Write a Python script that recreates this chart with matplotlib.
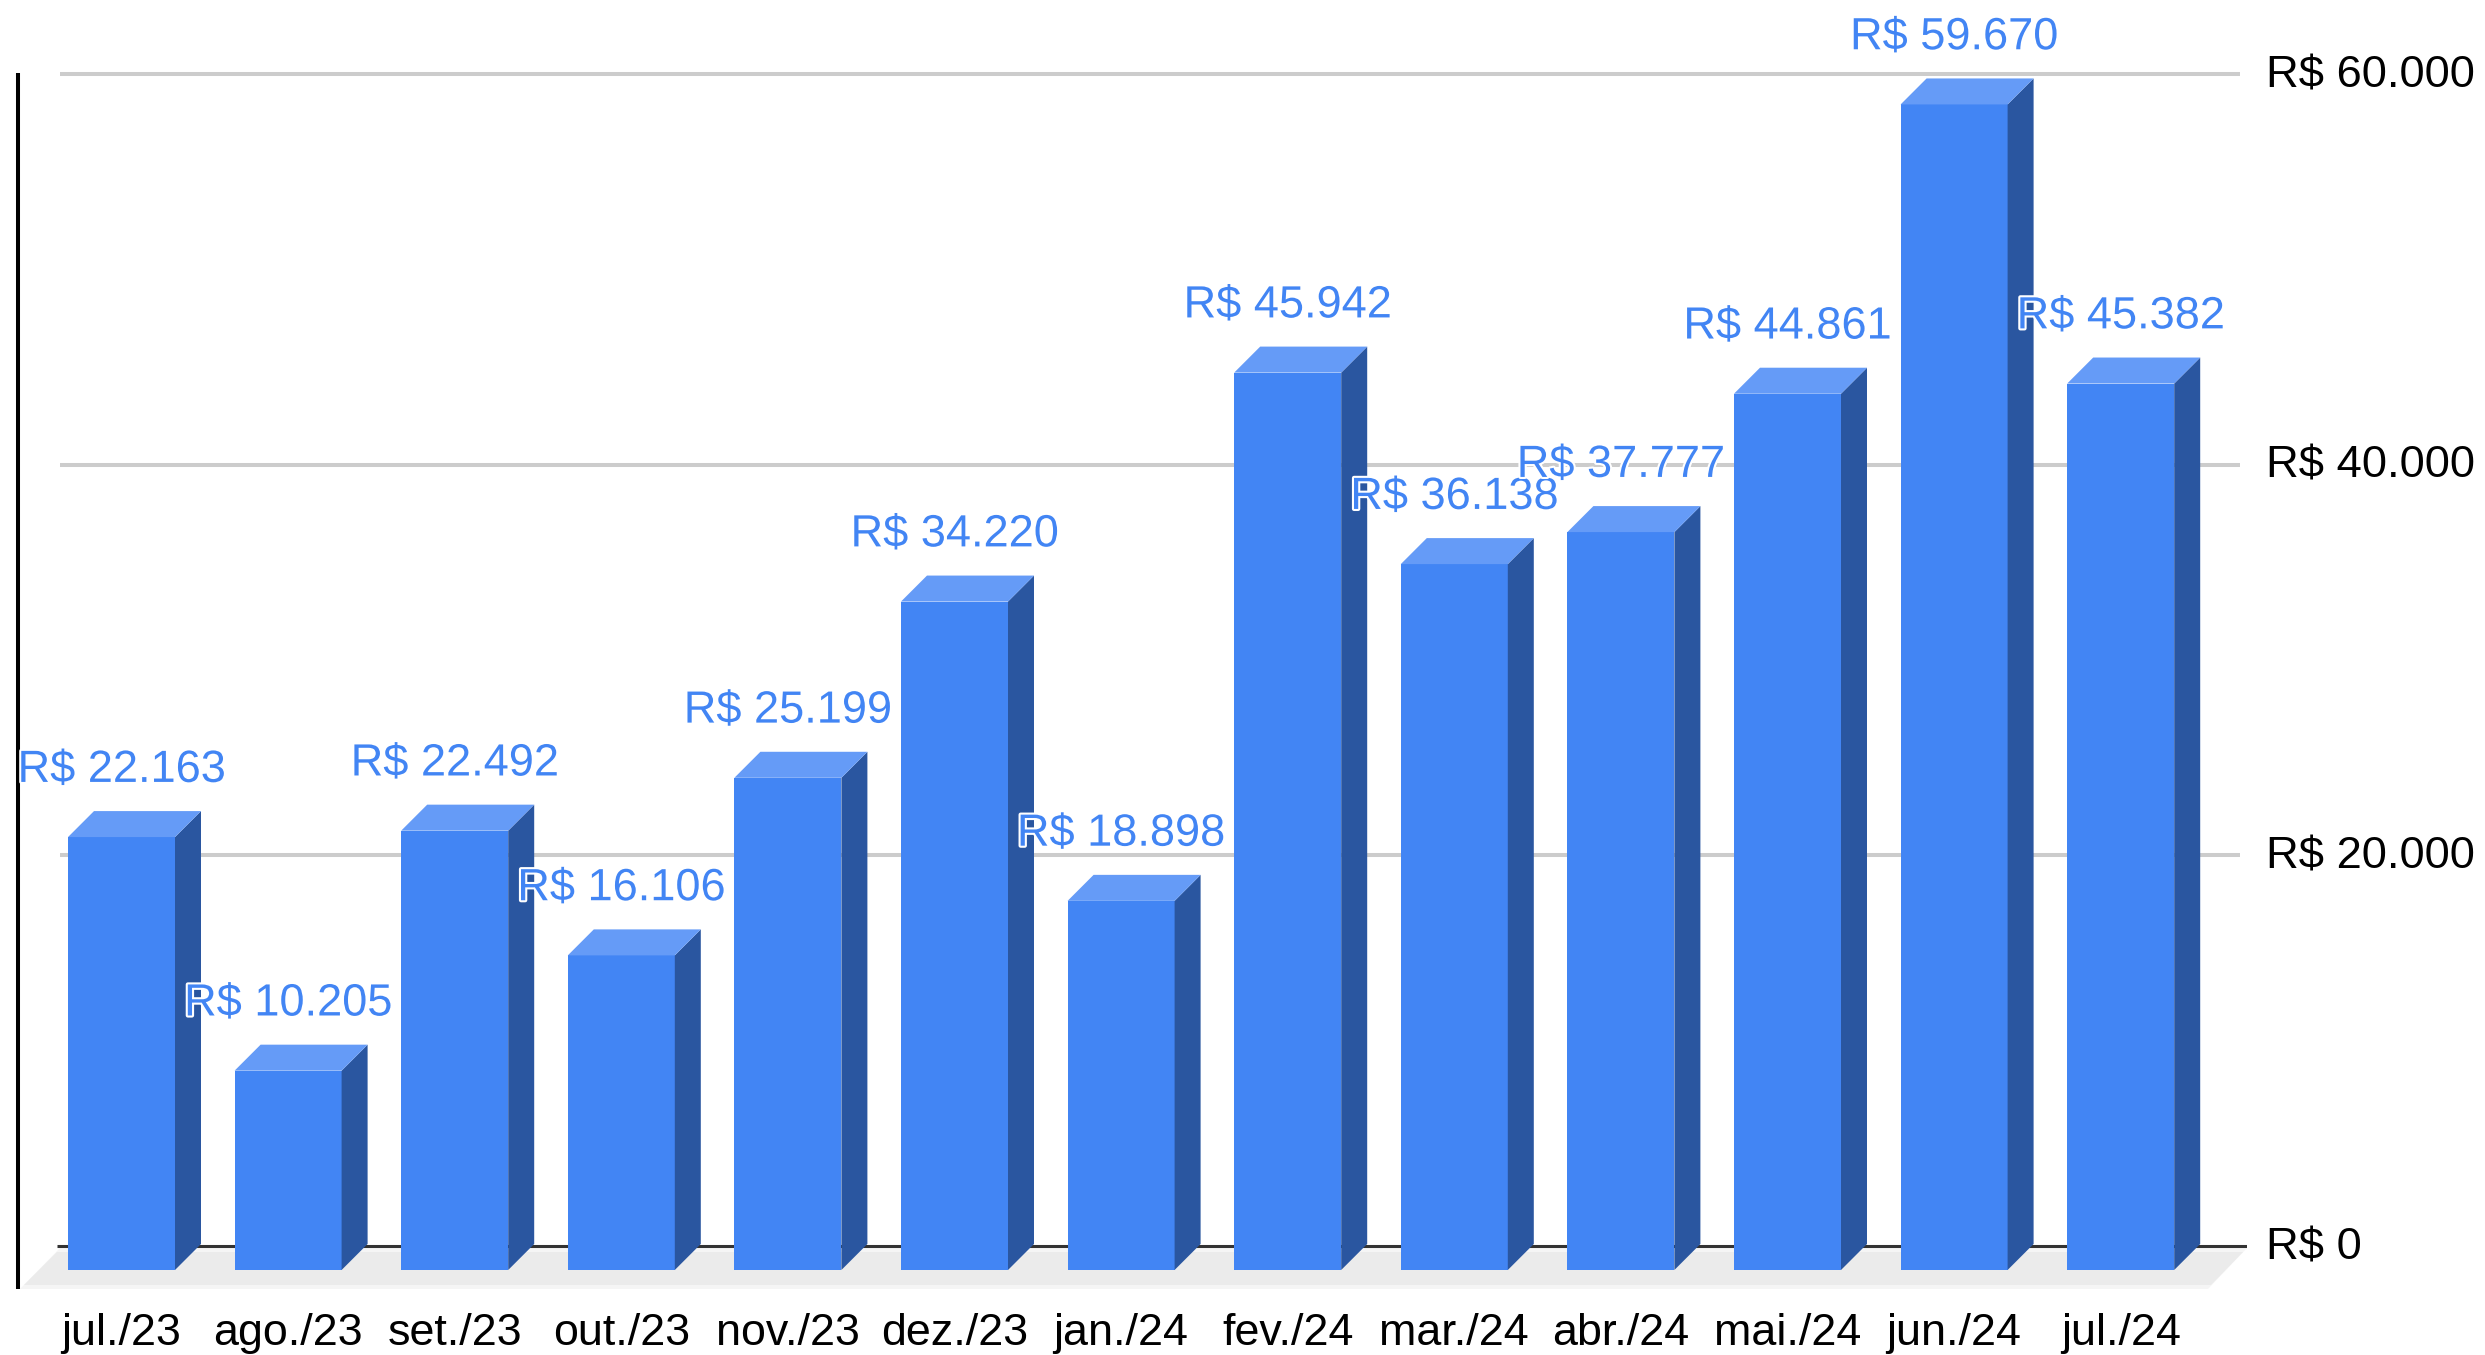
#! /usr/bin/env python
import matplotlib

matplotlib.use("Agg")
import matplotlib.patheffects as pe
import matplotlib.pyplot as plt
import numpy as np
from matplotlib.patches import Polygon

plt.rcParams["font.family"] = ["Liberation Sans", "DejaVu Sans"]

months = [
    "jul./23", "ago./23", "set./23", "out./23", "nov./23", "dez./23", "jan./24",
    "fev./24", "mar./24", "abr./24", "mai./24", "jun./24", "jul./24",
]
values = [
    22163, 10205, 22492, 16106, 25199, 34220, 18898,
    45942, 36138, 37777, 44861, 59670, 45382,
]
axis_values = [0, 20000, 40000, 60000]


def brl(v):
    return "R$ " + f"{v:,}".replace(",", ".")


# the chart is a fake 3d one, so the depth is worked out in pixels
W, H = 2485, 1355
X0, STEP = 121.5, 166.6  # first bar centre, bar spacing
Y0, PX_PER_VALUE = 1270, 1172 / 60000  # front baseline, scale
AX_RIGHT, AX_BOTTOM = 2247, 1289

xdata = lambda px: (px - X0) / STEP
ydata = lambda py: (Y0 - py) / PX_PER_VALUE

bar_w = 107 / STEP
side_x = 26 / STEP
side_y = 26 / PX_PER_VALUE
wall_y = 24 / PX_PER_VALUE
label_y = 27 / PX_PER_VALUE  # axis text sits a little above its line

fig = plt.figure(figsize=(W / 100, H / 100), dpi=100, facecolor="white")
ax = fig.add_axes([0, (H - AX_BOTTOM) / H, AX_RIGHT / W, AX_BOTTOM / H])
ax.set_xlim(xdata(0), xdata(AX_RIGHT))
ax.set_ylim(ydata(AX_BOTTOM), ydata(0))
for spine in ax.spines.values():
    spine.set_visible(False)

# floor, with the lighter rim
ax.add_patch(Polygon(
    [(xdata(20), ydata(1289)), (xdata(60), ydata(1248)), (xdata(2247), ydata(1248)), (xdata(2208), ydata(1289))],
    facecolor="#F5F5F5", edgecolor="none", zorder=1,
))
ax.add_patch(Polygon(
    [(xdata(24), ydata(1285)), (xdata(57), ydata(1252)), (xdata(2243), ydata(1252)), (xdata(2211), ydata(1285))],
    facecolor="#EBEBEB", edgecolor="none", zorder=1.1,
))

# back wall lines
for v in axis_values:
    ax.plot(
        [xdata(60 if v else 57), xdata(AX_RIGHT - 7 if v else AX_RIGHT)], [v + wall_y, v + wall_y],
        color="#CCCCCC" if v else "#333333", lw=2.9 if v else 2.2,
        solid_capstyle="butt", zorder=2,
    )

# left axis
ax.plot([xdata(18), xdata(18)], [ydata(1289), ydata(73)], color="black", lw=2.9, solid_capstyle="butt", zorder=2)

x = np.arange(len(values))
ax.bar(x, values, width=bar_w, color="#4285F4", linewidth=0, zorder=3)
for xi, v in zip(x, values):
    right = xi + bar_w / 2
    left = xi - bar_w / 2
    ax.add_patch(Polygon(
        [(right, 0), (right + side_x, side_y), (right + side_x, v + side_y), (right, v)],
        facecolor="#2A56A0", edgecolor="none", zorder=3,
    ))
    ax.add_patch(Polygon(
        [(left, v), (left + side_x, v + side_y), (right + side_x, v + side_y), (right, v)],
        facecolor="#659BF7", edgecolor="none", zorder=3,
    ))
    ax.annotate(
        brl(v), (xi, v), xytext=(0, 48), textcoords="offset points",
        ha="center", va="center", fontsize=32.5, color="#4285F4", zorder=5, annotation_clip=False,
        path_effects=[pe.withStroke(linewidth=3, foreground="white")],
    )

ax.set_xticks(x, months)
ax.set_yticks(np.array(axis_values) + label_y, [brl(v) for v in axis_values])
ax.yaxis.tick_right()
ax.tick_params(axis="x", length=0, pad=17, labelsize=32.3, colors="black")
ax.tick_params(axis="y", length=0, pad=14, labelsize=32.7, colors="black")

fig.savefig("out.png", dpi=100, facecolor="white")
